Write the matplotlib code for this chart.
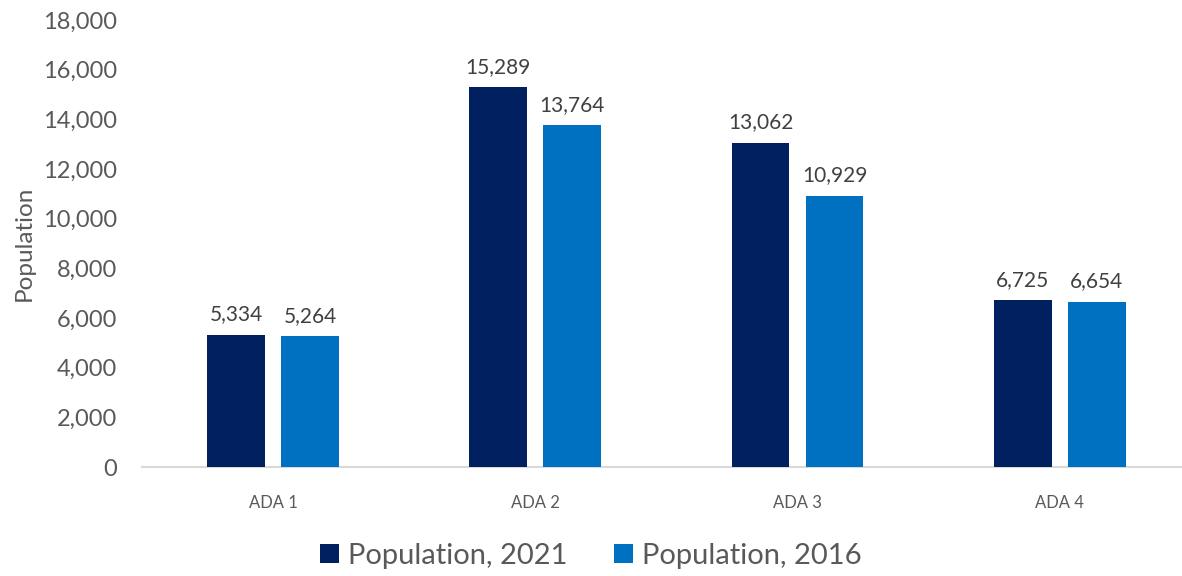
import matplotlib
matplotlib.use("Agg")
import matplotlib.pyplot as plt
import numpy as np

categories = ["ADA 1", "ADA 2", "ADA 3", "ADA 4"]
pop_2021 = [5334, 15289, 13062, 6725]
pop_2016 = [5264, 13764, 10929, 6654]
series_names = ["Population, 2021", "Population, 2016"]
yticks = list(range(0, 18001, 2000))

plt.rcParams['font.family'] = ['Lato', 'DejaVu Sans']
fig = plt.figure(figsize=(11.82, 5.76), dpi=100)
ax = fig.add_axes([0.120, 0.189, 0.880, 0.776])

x = np.arange(len(categories))
w = 0.22
off = 0.141
c1, c2 = "#002060", "#0070C0"
b1 = ax.bar(x - off, pop_2021, w, color=c1, label=series_names[0], zorder=3)
b2 = ax.bar(x + off, pop_2016, w, color=c2, label=series_names[1], zorder=3)

for bars, vals in ((b1, pop_2021), (b2, pop_2016)):
    for r, v in zip(bars, vals):
        ax.text(r.get_x() + r.get_width() / 2, v + 420, f"{v:,}", ha="center", va="bottom",
                fontsize=15, color="#404040")

ax.set_ylim(0, 18000)
ax.set_xlim(-0.5, 3.466)
ax.set_yticks(yticks)
ax.set_yticklabels([f"{t:,}" for t in yticks], fontsize=17, color="#595959")
ax.set_xticks(x)
ax.set_xticklabels(categories, fontsize=12, color="#595959")
ax.tick_params(axis="y", length=0, pad=18)
ax.tick_params(axis="x", length=0, pad=20)
for s in ["top", "right", "left"]:
    ax.spines[s].set_visible(False)
ax.spines["bottom"].set_color("#D9D9D9")
ax.spines["bottom"].set_linewidth(1.5)
ax.set_ylabel("Population", fontsize=17.5, color="#595959", labelpad=6)

leg = fig.legend(handles=[b1, b2], labels=series_names, loc="center", bbox_to_anchor=(0.5, 0.035),
                 ncol=2, frameon=False, fontsize=21, handlelength=0.65, handleheight=0.65,
                 handletextpad=0.3, columnspacing=1.6, labelcolor="#595959")

fig.savefig("out.png", dpi=100)
